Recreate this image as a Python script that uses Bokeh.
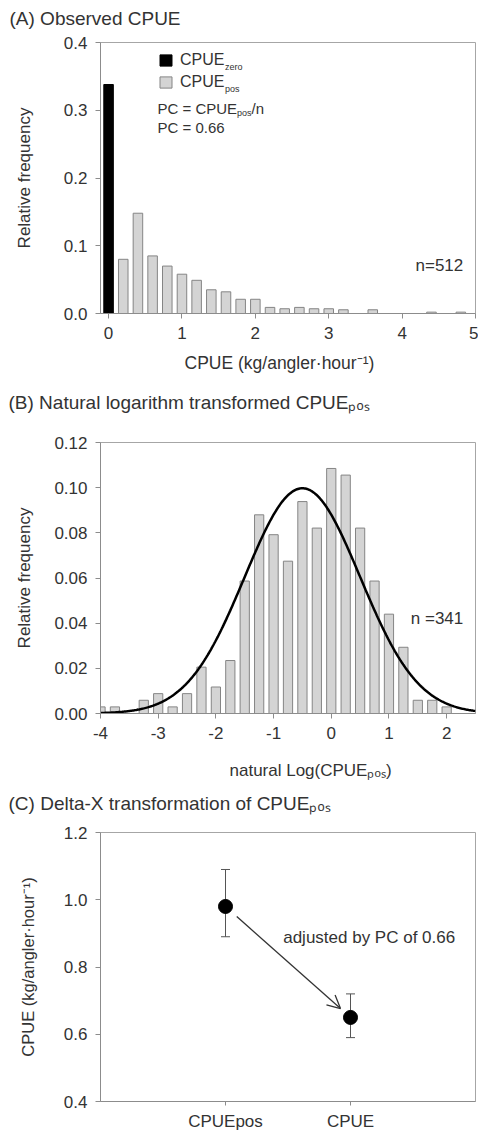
import numpy as np
from bokeh.plotting import figure
from bokeh.models import (Label, Legend, LegendItem, FixedTicker, PrintfTickFormatter,
                          ColumnDataSource, Whisker, TeeHead, Arrow, OpenHead, Range1d)
from bokeh.layouts import column
from bokeh.embed import file_html
from bokeh.resources import INLINE

# ---------------- data ----------------
# (A) observed CPUE: relative frequencies, bins of 0.2 kg/angler-hour
a_zero_x = [0.0]
a_zero_freq = [0.338]
a_pos_x = [0.2, 0.4, 0.6, 0.8, 1.0, 1.2, 1.4, 1.6, 1.8, 2.0, 2.2, 2.4, 2.6, 2.8, 3.0, 3.2, 3.6, 4.4, 4.8]
a_pos_freq = [0.080, 0.148, 0.085, 0.070, 0.058, 0.049, 0.035, 0.032, 0.021, 0.021,
              0.009, 0.007, 0.009, 0.007, 0.007, 0.0055, 0.0055, 0.002, 0.002]
a_n = 512
a_pc = 0.66

# (B) ln(CPUEpos): counts per 0.25 bin
b_bin_centers = [-4.0, -3.75, -3.25, -3.0, -2.75, -2.5, -2.25, -2.0, -1.75, -1.5, -1.25, -1.0,
                 -0.75, -0.5, -0.25, 0.0, 0.25, 0.5, 0.75, 1.0, 1.25, 1.5, 1.75, 2.0]
b_counts = [1, 1, 2, 3, 1, 3, 7, 4, 8, 20, 30, 27, 23, 32, 28, 37, 36, 28, 20, 15, 10, 2, 2, 1]
b_n = 341
b_bin_width = 0.25
b_fit_mean = -0.5   # fitted normal curve parameters
b_fit_sd = 1.0

# (C) Delta-X transformation
c_labels = ["CPUEpos", "CPUE"]
c_pos = [1, 2]
c_mean = [0.98, 0.65]
c_lower = [0.89, 0.59]
c_upper = [1.09, 0.72]

# ---------------- style helpers ----------------
FONT = "Liberation Sans"
TXT = "#333333"
AX = "#8c8c8c"
OUT = "#a6a6a6"
BAR_FILL = "#d4d4d4"
BAR_LINE = "#858585"

W = {' ': 278, '(': 333, ')': 333, '/': 278, '=': 584, '.': 278, '-': 333, '·': 278,
     'A': 667, 'B': 667, 'C': 722, 'D': 722, 'E': 667, 'L': 556, 'N': 722, 'O': 778,
     'P': 667, 'R': 722, 'U': 722, 'X': 667,
     'a': 556, 'b': 556, 'c': 500, 'd': 556, 'e': 556, 'f': 278, 'g': 556, 'h': 556,
     'i': 222, 'j': 222, 'k': 500, 'l': 222, 'm': 833, 'n': 556, 'o': 556, 'p': 556,
     'q': 556, 'r': 333, 's': 500, 't': 278, 'u': 556, 'v': 500, 'y': 500, 'z': 500}


def tw(s, size):
    return sum(W.get(ch, 556) for ch in s) * size / 1000.0


def add_rich(p, fl, fb, pieces, px, py):
    """Text inside the frame, pieces = (text, size, vertical shift)."""
    adv = 0.0
    for text, size, shift in pieces:
        p.add_layout(Label(x=px + adv - fl, y=fb - (py + shift), x_units="screen", y_units="screen",
                           text=text, text_font=FONT, text_font_size=f"{size}px", text_color=TXT,
                           text_align="left", text_baseline="middle"))
        adv += tw(text, size)


def add_outer(p, side, text, cx, cy, size):
    """Text outside the frame, placed in canvas pixels of the figure."""
    p.add_layout(Label(x=cx, y=cy, x_units="canvas", y_units="canvas", text=text,
                       text_font=FONT, text_font_size=f"{size}px", text_color=TXT,
                       text_align="left", text_baseline="middle"), side)


def make_fig(w, h, left, right, top, bottom, xr, yr):
    p = figure(width=w, height=h, min_border_left=left, min_border_right=right,
               min_border_top=top, min_border_bottom=bottom,
               x_range=Range1d(*xr), y_range=Range1d(*yr),
               output_backend="svg", toolbar_location=None, title=None)
    p.xgrid.visible = False
    p.ygrid.visible = False
    p.outline_line_color = OUT
    p.outline_line_width = 1
    p.background_fill_color = "white"
    p.border_fill_color = "white"
    for ax in (p.xaxis[0], p.yaxis[0]):
        ax.axis_line_color = AX
        ax.major_tick_line_color = AX
        ax.major_tick_out = 5
        ax.major_tick_in = 0
        ax.minor_tick_line_color = None
        ax.major_label_text_font = FONT
        ax.major_label_text_font_size = "17px"
        ax.major_label_text_color = TXT
        ax.axis_label_text_font = FONT
        ax.axis_label_text_font_style = "normal"
        ax.axis_label_text_color = TXT
        ax.axis_label_text_font_size = "17px"
    p.yaxis[0].major_label_standoff = 8
    p.xaxis[0].major_label_standoff = 8
    return p


# ---------------- panel A (page y 0..375) ----------------
flA, fbA = 100, 313
pA = make_fig(478, 375, 100, 3, 42, 62, (-0.11, 5.0), (0, 0.4))
pA.xaxis[0].ticker = FixedTicker(ticks=[0, 1, 2, 3, 4, 5])
pA.xaxis[0].formatter = PrintfTickFormatter(format="%d")
pA.yaxis[0].ticker = FixedTicker(ticks=[0, 0.1, 0.2, 0.3, 0.4])
pA.yaxis[0].formatter = PrintfTickFormatter(format="%.1f")
pA.yaxis[0].axis_label = "Relative frequency"
pA.yaxis[0].axis_label_standoff = 27

r_zero = pA.vbar(x=a_zero_x, top=a_zero_freq, width=0.13, fill_color="black", line_color="black")
r_pos = pA.vbar(x=a_pos_x, top=a_pos_freq, width=0.13, fill_color=BAR_FILL, line_color=BAR_LINE)

leg = Legend(items=[LegendItem(label="CPUE", renderers=[r_zero]),
                    LegendItem(label="CPUE", renderers=[r_pos])],
             location=(58, 221), glyph_width=15, glyph_height=14, label_standoff=7,
             spacing=2, padding=0, margin=0, border_line_color=None,
             background_fill_alpha=0, label_text_font=FONT, label_text_font_size="16px",
             label_text_color=TXT, label_height=20)
pA.add_layout(leg)

sub_x = 158 + 15 + 7 + tw("CPUE", 16)
add_rich(pA, flA, fbA, [("zero", 9, 0)], sub_x, 66)
add_rich(pA, flA, fbA, [("pos", 9, 0)], sub_x, 88)
add_rich(pA, flA, fbA, [("PC = CPUE", 15, 0), ("pos", 9, 5), ("/n", 15, 0)], 157, 107.5)
add_rich(pA, flA, fbA, [(f"PC = {a_pc:.2f}", 15, 0)], 157, 127)
add_rich(pA, flA, fbA, [(f"n={a_n}", 17, 0)], 415, 265)
add_outer(pA, "above", "(A) Observed CPUE", 9, 18, 19)
add_outer(pA, "below", "CPUE (kg/angler·hour\u207b\u00b9)", 184, 362, 17.5)

# ---------------- panel B (page y 375..785) ----------------
flB, fbB = 99, 713
pB = make_fig(478, 410, 99, 3, 67, 72, (-4.0, 2.5), (0, 0.12))
pB.xaxis[0].ticker = FixedTicker(ticks=[-4, -3, -2, -1, 0, 1, 2])
pB.xaxis[0].formatter = PrintfTickFormatter(format="%d")
pB.yaxis[0].ticker = FixedTicker(ticks=[0, 0.02, 0.04, 0.06, 0.08, 0.10, 0.12])
pB.yaxis[0].formatter = PrintfTickFormatter(format="%.2f")
pB.yaxis[0].axis_label = "Relative frequency"
pB.yaxis[0].axis_label_standoff = 17

b_freq = [c / b_n for c in b_counts]
pB.vbar(x=b_bin_centers, top=b_freq, width=0.16, fill_color=BAR_FILL, line_color=BAR_LINE)
fit_x = np.linspace(-4.0, 2.5, 400)
fit_y = b_bin_width * np.exp(-(fit_x - b_fit_mean) ** 2 / (2 * b_fit_sd ** 2)) / (b_fit_sd * np.sqrt(2 * np.pi))
pB.line(fit_x, fit_y, line_color="black", line_width=2.5)

add_rich(pB, flB, fbB, [(f"n ={b_n}", 17, 0)], 409.3, 617.7)
add_outer(pB, "above", "(B) Natural logarithm transformed CPUE\u209a\u2092\u209b", 8, 402 - 375, 19)
add_outer(pB, "below", "natural Log(CPUE\u209a\u2092\u209b)", 229, 770 - 375, 17)

# ---------------- panel C (page y 785..1133) ----------------
flC, fbC = 100, 1103
pC = make_fig(478, 348, 100, 3, 47, 30, (0, 3), (0.4, 1.2))
pC.xaxis[0].ticker = FixedTicker(ticks=c_pos)
pC.xaxis[0].major_label_overrides = {c_pos[i]: c_labels[i] for i in range(len(c_pos))}
pC.xaxis[0].major_tick_out = 4
pC.xaxis[0].major_label_standoff = 6
pC.yaxis[0].ticker = FixedTicker(ticks=[0.4, 0.6, 0.8, 1.0, 1.2])
pC.yaxis[0].formatter = PrintfTickFormatter(format="%.1f")
pC.yaxis[0].axis_label = "CPUE (kg/angler·hour\u207b\u00b9)"
pC.yaxis[0].axis_label_text_font_size = "16.5px"
pC.yaxis[0].axis_label_standoff = 24

srcC = ColumnDataSource(dict(x=c_pos, y=c_mean, lower=c_lower, upper=c_upper))
pC.add_layout(Whisker(source=srcC, base="x", lower="lower", upper="upper",
                      line_color="#555555", line_width=1, level="underlay",
                      upper_head=TeeHead(size=9, line_color="#555555", line_width=1),
                      lower_head=TeeHead(size=9, line_color="#555555", line_width=1)))
pC.scatter(x="x", y="y", source=srcC, size=14, fill_color="black", line_color="black")

t0, t1 = 0.09, 0.92
ax0 = c_pos[0] + t0 * (c_pos[1] - c_pos[0])
ay0 = c_mean[0] + t0 * (c_mean[1] - c_mean[0])
ax1 = c_pos[0] + t1 * (c_pos[1] - c_pos[0])
ay1 = c_mean[0] + t1 * (c_mean[1] - c_mean[0])
pC.add_layout(Arrow(x_start=ax0, y_start=ay0, x_end=ax1, y_end=ay1,
                    line_color="#333333", line_width=1.3,
                    end=OpenHead(size=13, line_color="#333333", line_width=1.3)))

add_rich(pC, flC, fbC, [(f"adjusted by PC of {a_pc:.2f}", 17, 0)], 282.7, 939)
add_outer(pC, "above", "(C) Delta-X transformation of CPUE\u209a\u2092\u209b", 8, 803 - 785, 19)

layout = column(pA, pB, pC, spacing=0)
open("out.html", "w").write(file_html(layout, INLINE))
